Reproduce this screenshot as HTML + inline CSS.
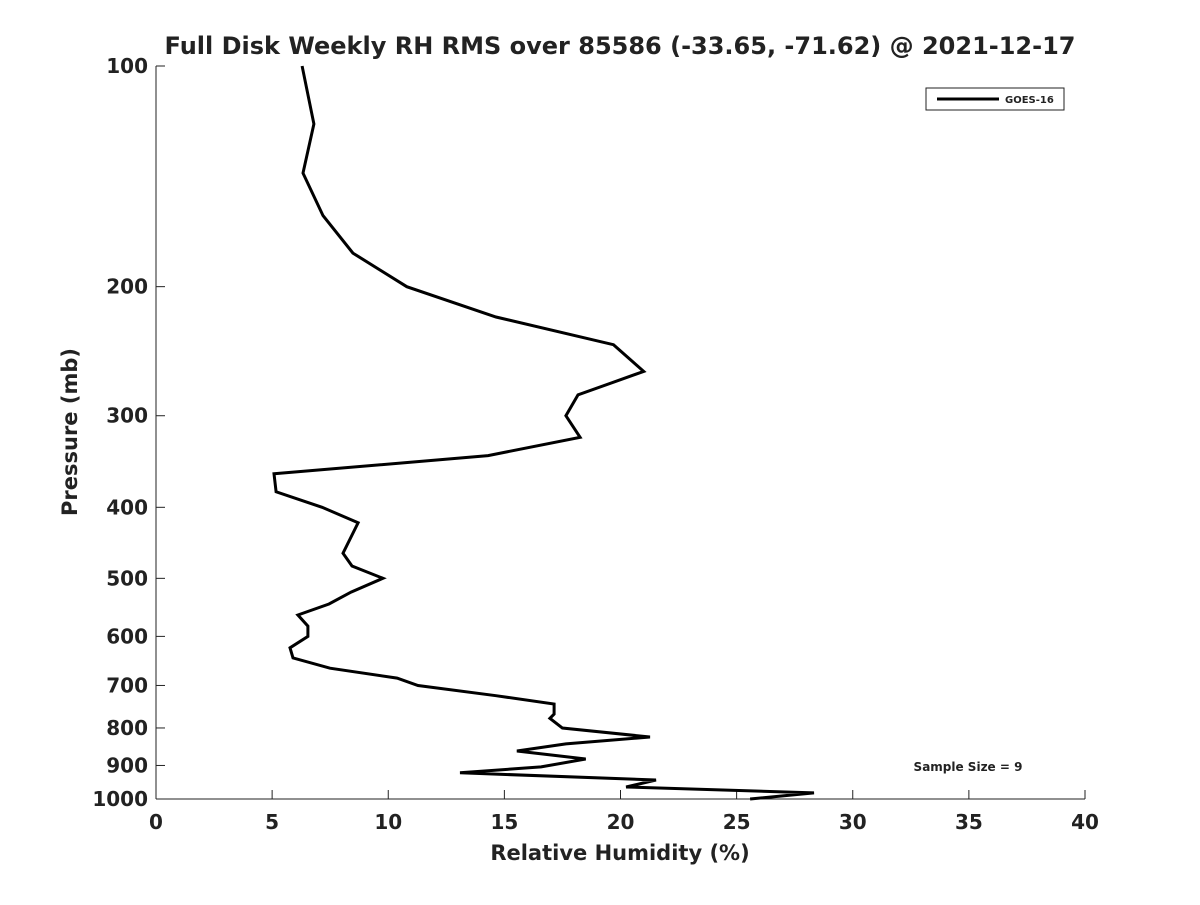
<!DOCTYPE html>
<html><head><meta charset="utf-8"><style>
body{margin:0;background:#fff;font-family:"Liberation Sans","DejaVu Sans",sans-serif}
svg text{font-family:"DejaVu Sans","Liberation Sans",sans-serif;fill:#222}
</style></head><body>
<svg id="chart" width="1200" height="900">
<text x="620" y="54" text-anchor="middle" font-size="24" font-weight="bold">Full Disk Weekly RH RMS over 85586 (-33.65, -71.62) @ 2021-12-17</text>
<g id="axes"></g>
<text transform="translate(77,432) rotate(-90)" text-anchor="middle" font-size="21" font-weight="bold">Pressure (mb)</text>
<text x="620" y="860" text-anchor="middle" font-size="21" font-weight="bold">Relative Humidity (%)</text>
<g>
<rect x="926" y="88" width="138" height="22" fill="#fff" stroke="#222" stroke-width="1"/>
<line x1="937" y1="99" x2="999" y2="99" stroke="#000" stroke-width="3"/>
<text x="1005" y="103" font-size="10" font-weight="bold">GOES-16</text>
</g>
<text x="968" y="771" text-anchor="middle" font-size="12" font-weight="bold">Sample Size = 9</text>
</svg>
<script>
const rhValues=[6.29,6.8,6.33,7.19,8.48,10.8,14.64,19.7,21.0,18.17,17.65,18.26,14.3,5.08,5.17,7.15,8.7,8.05,8.44,9.77,8.4,7.45,6.11,6.54,6.54,5.77,5.9,7.49,10.38,11.28,14.64,17.14,17.14,16.96,17.5,21.27,17.65,15.54,18.5,16.58,13.09,21.53,20.24,28.33,25.58];
const pressures=[100,120,140,160,180,200,220,240,261,281,300,321,340,360,381,400,420,462,481,500,522,542,561,581,600,622,642,663,684,700,723,742,766,776,800,823,841,860,882,904,921,942,963,981,1000];
const xTicks=[0,5,10,15,20,25,30,35,40];
const yTicks=[100,200,300,400,500,600,700,800,900,1000];
const NS="http://www.w3.org/2000/svg";
const L=156,R=1085,T=66,B=799;
function xs(v){return L+(v-0)/(40-0)*(R-L);}
function ys(p){return T+(Math.log10(p)-2)*(B-T);}
const svg=document.getElementById('chart'),ax=document.getElementById('axes');
function mk(tag,attrs,parent){const e=document.createElementNS(NS,tag);for(const k in attrs)e.setAttribute(k,attrs[k]);(parent||ax).appendChild(e);return e;}
let e=mk('line',{x1:L,y1:B,x2:R,y2:B,stroke:'#222','stroke-width':1});


e=mk('line',{x1:L,y1:T,x2:L,y2:B,stroke:'#222','stroke-width':1});


xTicks.forEach(v=>{
 const x=xs(v);
 let t=mk('line',{x1:x,y1:B,x2:x,y2:B-9,stroke:'#222'});
 
 
 let tx=mk('text',{x:x,y:B+30,'text-anchor':'middle','font-size':20,'font-weight':'bold'});
 tx.textContent=v;
 
 
});
yTicks.forEach(p=>{
 const y=ys(p);
 let t=mk('line',{x1:L,y1:y,x2:L+9,y2:y,stroke:'#222'});
 
 
 let tx=mk('text',{x:L-8,y:y+7,'text-anchor':'end','font-size':20,'font-weight':'bold'});
 tx.textContent=p;
 
 
});
const pts=rhValues.map((v,i)=>xs(v).toFixed(1)+','+ys(pressures[i]).toFixed(1)).join(' ');
const line=mk('polyline',{points:pts,fill:'none',stroke:'#000','stroke-width':3,'stroke-linejoin':'miter'},svg);


</script>
</body></html>
